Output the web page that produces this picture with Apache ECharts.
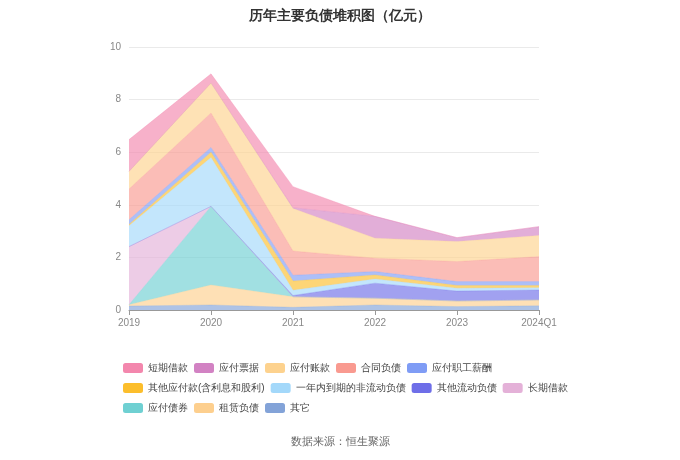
<!DOCTYPE html>
<html>
<head>
<meta charset="utf-8">
<script src="https://cdn.jsdelivr.net/npm/echarts@6/dist/echarts.min.js"></script>
<style>html,body{margin:0;padding:0;background:#fff}#c{width:680px;height:460px}</style>
</head>
<body>
<div id="c"></div>
<script>
var categories = ['2019', '2020', '2021', '2022', '2023', '2024Q1'];
var seriesNames = ['短期借款', '应付票据', '应付账款', '合同负债', '应付职工薪酬', '其他应付款(含利息和股利)', '一年内到期的非流动负债', '其他流动负债', '长期借款', '应付债券', '租赁负债', '其它'];
var colors = ['#f387ad', '#d282c3', '#fdd28e', '#f99a90', '#7f9cf5', '#fcbe2c', '#a3d8fa', '#6e6ee8', '#e4b1d8', '#6fd0d2', '#fdcf8e', '#83a3d8'];
var shortLoan     = [1.21, 0.35, 0.80, 0.00, 0.00, 0.00];
var notesPayable  = [0.00, 0.00, 0.03, 0.83, 0.15, 0.34];
var accountsPay   = [0.67, 1.14, 1.62, 0.76, 0.76, 0.80];
var contractLiab  = [1.17, 1.31, 0.92, 0.51, 0.76, 0.95];
var payroll       = [0.18, 0.18, 0.22, 0.13, 0.15, 0.15];
var otherPay      = [0.05, 0.20, 0.35, 0.15, 0.10, 0.08];
var currentNonCur = [0.79, 1.86, 0.20, 0.16, 0.11, 0.09];
var otherCurrent  = [0.00, 0.00, 0.05, 0.57, 0.38, 0.38];
var longLoan      = [2.21, 0.00, 0.00, 0.00, 0.00, 0.00];
var bonds         = [0.00, 2.99, 0.00, 0.00, 0.00, 0.00];
var lease         = [0.05, 0.76, 0.40, 0.26, 0.21, 0.22];
var others        = [0.15, 0.19, 0.10, 0.19, 0.13, 0.16];
var yTicks = {min: 0, max: 10, interval: 2};

var values = [shortLoan, notesPayable, accountsPay, contractLiab, payroll, otherPay, currentNonCur, otherCurrent, longLoan, bonds, lease, others];
var series = [];
for (var i = seriesNames.length - 1; i >= 0; i--) {
  series.push({
    name: seriesNames[i],
    type: 'line',
    stack: 'total',
    data: values[i],
    symbol: 'none',
    smooth: false,
    itemStyle: {color: colors[i]},
    lineStyle: {width: 0.5, color: colors[i], opacity: 0.6},
    areaStyle: {color: colors[i], opacity: 0.65}
  });
}
var chart = echarts.init(document.getElementById('c'), null, {renderer: 'canvas'});
chart.setOption({
  animation: false,
  color: colors,
  title: {
    text: '历年主要负债堆积图（亿元）',
    left: 'center', top: 4,
    textStyle: {fontSize: 14, fontWeight: 'bold', color: '#333'}
  },
  graphic: [{
    type: 'text', left: 'center', top: 436,
    style: {text: '数据来源：恒生聚源', fontSize: 11, fill: '#666'}
  }],
  legend: {
    data: seriesNames,
    left: 118, top: 356, width: 450,
    itemWidth: 20, itemHeight: 10, itemGap: 6,
    textStyle: {fontSize: 10, color: '#444', lineHeight: 14},
    icon: 'roundRect'
  },
  grid: {left: 129, right: 141, top: 47, bottom: 150},
  xAxis: {
    type: 'category', boundaryGap: false, data: categories,
    axisLine: {lineStyle: {color: '#999'}},
    axisTick: {show: true, lineStyle: {color: '#999'}},
    axisLabel: {color: '#888', fontSize: 10}
  },
  yAxis: {
    type: 'value', min: yTicks.min, max: yTicks.max, interval: yTicks.interval,
    axisLine: {show: false}, axisTick: {show: false},
    axisLabel: {color: '#888', fontSize: 10},
    splitLine: {lineStyle: {color: '#eaeaea'}}
  },
  series: series
});
</script>
</body>
</html>
